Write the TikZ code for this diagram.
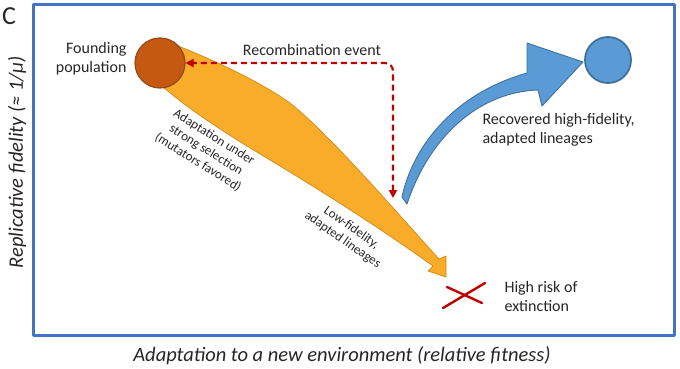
\documentclass[tikz,border=0pt]{standalone}
\usepackage{fontspec}
\setmainfont{Carlito}
\usetikzlibrary{arrows.meta}

\definecolor{frameblue}{HTML}{4472C4}
\definecolor{bandorange}{HTML}{F9AC2A}
\definecolor{bandedge}{HTML}{D08A14}
\definecolor{foundfill}{HTML}{C65911}
\definecolor{foundedge}{HTML}{8F4A1E}
\definecolor{popblue}{HTML}{5B9BD5}
\definecolor{popedge}{HTML}{41719C}
\definecolor{darkred}{HTML}{C00000}

\begin{document}
\begin{tikzpicture}[
  x=1pt, y=-1pt,
  line cap=round,
  line join=round,
  every node/.style={font=\fontsize{16}{19}\selectfont, text=black!85},
  smalltext/.style={font=\fontsize{13}{15}\selectfont},
  axislabel/.style={font=\itshape\fontsize{20.5}{24}\selectfont},
  frame/.style={draw=frameblue, line width=3pt},
  band/.style={fill=bandorange, draw=bandedge, line width=0.7pt},
  bigarrow/.style={fill=popblue, draw=popedge, line width=0.9pt},
  foundpop/.style={circle, fill=foundfill, draw=foundedge, line width=1.2pt,
    minimum size=50pt, inner sep=0pt},
  bluepop/.style={circle, fill=popblue, draw=popedge, line width=1.8pt,
    minimum size=46pt, inner sep=0pt},
  recombline/.style={draw=darkred, line width=2.2pt, dash pattern=on 6pt off 4pt,
    line cap=butt, rounded corners=8pt,
    {Triangle[length=8pt,width=8pt]}-{Triangle[length=8pt,width=8pt]}},
  cross/.style={draw=darkred, line width=2.4pt}
]
  \useasboundingbox (0,0) rectangle (680,369);

  % Rahmen und Achsen
  \node[font=\fontsize{26}{26}\selectfont] (panel) at (9,16) {C};
  \draw[frame] (33,5) rectangle (674,335);
  \node[axislabel, rotate=90] (ylab) at (17,162)
    {Replicative fidelity (≈ 1/µ)};
  \node[axislabel] (xlab) at (342,356)
    {Adaptation to a new environment (relative fitness)};

  % Orange Linie: Anpassung mit Mutatoren
  \draw[band] (168,42)
    .. controls (220,62) and (265,85) .. (290,103)
    .. controls (330,135) and (390,205) .. (439,259)
    -- (446,256) -- (446,277) -- (428,271) -- (433,266)
    .. controls (380,228) and (320,190) .. (270,160)
    .. controls (220,130) and (190,110) .. (163,87) -- cycle;

  % Populationen
  \node[foundpop] (found) at (160,63) {};
  \node[bluepop] (recov) at (608,60) {};

  % Blauer Pfeil: Rekombination
  \draw[bigarrow] (402,197)
    .. controls (412,150) and (450,95) .. (527,73)
    -- (527,43) -- (583,62) -- (542,106) -- (538,90)
    .. controls (480,92) and (430,135) .. (407,204) -- cycle;

  % Rekombinationsereignis
  \coordinate (rdrop) at (393,198);
  \draw[recombline] (rdrop) |- (found.east);

  % Aussterben
  \draw[cross] (447,287) -- (482,303);
  \draw[cross] (443,308) -- (485,283);

  % Beschriftungen
  \node[left, align=right] (foundlab) at (130,59) {Founding\\population};
  \node (recomb) at (312,50) {Recombination event};
  \node[right, align=left] (recovlab) at (479,130)
    {Recovered high-fidelity,\\adapted lineages};
  \node[right, align=left] (extlab) at (501,297) {High risk of\\extinction};
  \node[smalltext, rotate=-32, align=center] (adaptlab) at (206,150)
    {Adaptation under\\strong selection\\(mutators favored)};
  \node[smalltext, rotate=-35, align=center] (lowlab) at (347,234)
    {Low-fidelity,\\adapted lineages};
\end{tikzpicture}
\end{document}
